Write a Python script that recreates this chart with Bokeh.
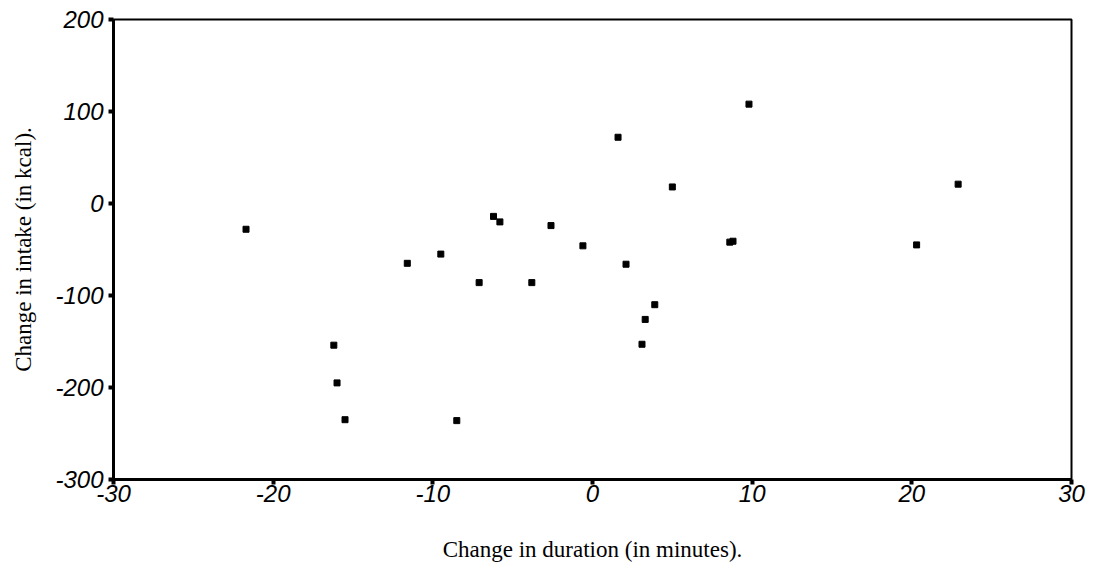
from bokeh.plotting import figure
from bokeh.models import Range1d, FixedTicker
from bokeh.embed import file_html
from bokeh.resources import INLINE

duration_change = [-21.7, -16.2, -16.0, -15.5, -11.6, -9.5, -8.5, -7.1, -6.2, -5.8,
                   -3.8, -2.6, -0.6, 1.6, 2.1, 3.3, 3.9, 3.1, 5.0, 8.6, 8.8, 9.8,
                   20.3, 22.9]
intake_change = [-28, -154, -195, -235, -65, -55, -236, -86, -14, -20,
                 -86, -24, -46, 72, -66, -126, -110, -153, 18, -42, -41, 108,
                 -45, 21]
x_ticks = [-30, -20, -10, 0, 10, 20, 30]
y_ticks = [-300, -200, -100, 0, 100, 200]

p = figure(width=1095, height=569, output_backend="svg", toolbar_location=None,
           x_range=Range1d(-30, 30), y_range=Range1d(-300, 200),
           min_border_left=113, min_border_right=24, min_border_top=19,
           min_border_bottom=90)
p.grid.visible = False
p.outline_line_color = "black"
p.outline_line_width = 2
p.background_fill_color = "white"
p.border_fill_color = "white"

p.xaxis.ticker = FixedTicker(ticks=x_ticks)
p.yaxis.ticker = FixedTicker(ticks=y_ticks)
p.xaxis.major_label_overrides = {t: str(t) for t in x_ticks}
p.yaxis.major_label_overrides = {t: str(t) for t in y_ticks}

for ax in (p.xaxis[0], p.yaxis[0]):
    ax.axis_line_width = 3
    ax.axis_line_color = "black"
    ax.major_tick_line_width = 4
    ax.major_tick_line_color = "black"
    ax.major_tick_out = 5
    ax.major_tick_in = 0
    ax.minor_tick_line_color = None
    ax.major_label_text_font = "Liberation Sans"
    ax.major_label_text_font_style = "italic"
    ax.major_label_text_font_size = "24px"
    ax.major_label_text_color = "black"
    ax.axis_label_text_font = "Liberation Serif"
    ax.axis_label_text_font_style = "normal"
    ax.axis_label_text_font_size = "23px"
    ax.axis_label_text_color = "black"

p.xaxis.axis_label = "Change in duration (in minutes)."
p.yaxis.axis_label = "Change in intake (in kcal)."
p.xaxis.major_label_standoff = 0
p.yaxis.major_label_standoff = 5
p.xaxis.axis_label_standoff = 32
p.yaxis.axis_label_standoff = 16

p.scatter(duration_change, intake_change, marker="square", size=6,
          fill_color="black", line_color="black")

open("out.html", "w").write(file_html(p, INLINE))
